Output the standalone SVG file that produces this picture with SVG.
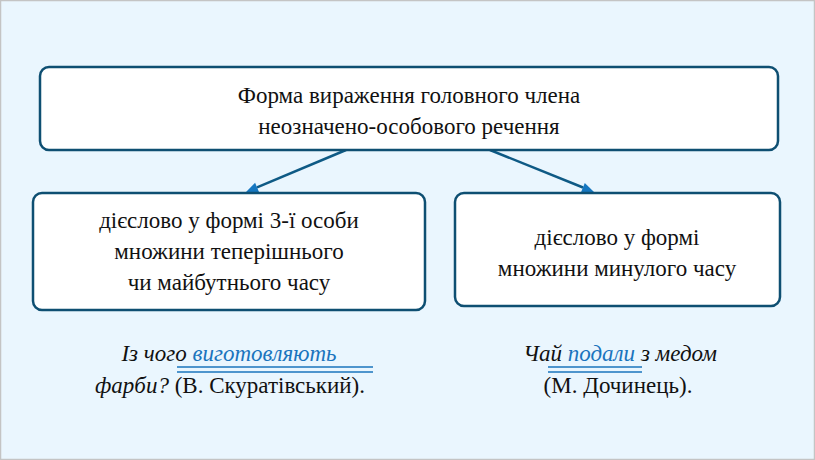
<svg xmlns="http://www.w3.org/2000/svg" width="815" height="460" viewBox="0 0 815 460">
<style>
.box{fill:#ffffff;stroke:#0e4f72;stroke-width:2.5}
.t{font-size:23px;fill:#111;text-anchor:middle}
.i{font-style:italic}
.u{fill:#1a74bd}
.conn{stroke:#0e5a85;stroke-width:2.5;fill:none}
.ul{stroke:#1a74bd;stroke-width:1.3}
.ah{fill:#1677c0}
</style>
<rect x="0.5" y="0.5" width="814" height="459" fill="#eaf6fe" stroke="#c4c4c4" stroke-width="1.5"/>
<g id="connectors">
<line class="conn" x1="346" y1="150" x2="257" y2="187.4"/>
<polygon class="ah" points="246,192 259,192 255.1,182.7"/>
<line class="conn" x1="490" y1="150" x2="583" y2="187.5"/>
<polygon class="ah" points="594,192 581,192.2 584.8,182.9"/>
</g>
<g id="node-top">
<rect class="box" x="40" y="67" width="738" height="83" rx="9"/>
<text class="t" font-family="'Liberation Serif', serif" x="409" y="103">Форма вираження головного члена</text>
<text class="t" font-family="'Liberation Serif', serif" x="409" y="134">неозначено-особового речення</text>
</g>
<g id="node-left">
<rect class="box" x="33" y="193" width="392" height="117" rx="9"/>
<text class="t" font-family="'Liberation Serif', serif" x="229" y="228">дієслово у формі 3-ї особи</text>
<text class="t" font-family="'Liberation Serif', serif" x="229" y="259">множини теперішнього</text>
<text class="t" font-family="'Liberation Serif', serif" x="229" y="290">чи майбутнього часу</text>
</g>
<g id="node-right">
<rect class="box" x="455" y="193" width="325" height="113" rx="9"/>
<text class="t" font-family="'Liberation Serif', serif" x="617" y="245">дієслово у формі</text>
<text class="t" font-family="'Liberation Serif', serif" x="617" y="276">множини минулого часу</text>
</g>
<g id="example-left">
<text class="t" font-family="'Liberation Serif', serif" x="229" y="361"><tspan class="i">Із чого </tspan><tspan class="i u">виготовляють</tspan></text>
<text class="t" font-family="'Liberation Serif', serif" x="230" y="393"><tspan class="i">фарби?</tspan> (В. Скуратівський).</text>
<line class="ul" x1="177" y1="367" x2="373" y2="367"/>
<line class="ul" x1="177" y1="372" x2="373" y2="372"/>
</g>
<g id="example-right">
<text class="t i" font-family="'Liberation Serif', serif" x="620" y="361">Чай <tspan class="u">подали</tspan> з медом</text>
<text class="t" font-family="'Liberation Serif', serif" x="618" y="393">(М. Дочинець).</text>
<line class="ul" x1="548" y1="367" x2="642" y2="367"/>
<line class="ul" x1="548" y1="372" x2="642" y2="372"/>
</g>
</svg>
